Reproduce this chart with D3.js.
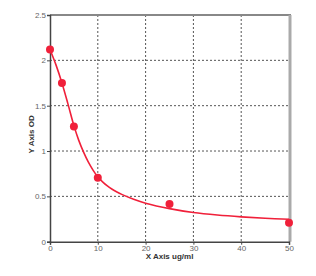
<!DOCTYPE html>
<html><head><meta charset="utf-8">
<script src="https://cdn.jsdelivr.net/npm/d3@7"></script>
<style>body{margin:0;background:#fff;}svg{display:block;}</style>
</head><body>
<script>
const xTicks = [0,10,20,30,40,50];
const yTicks = [0,0.5,1,1.5,2,2.5];
const pointX = [0,2.5,5,10,25,50];
const pointY = [2.12,1.75,1.27,0.705,0.415,0.21];
const curveX = [0,1.25,2.5,3.75,5,6,7,8,9,10,11,12,13,14,15,17.5,20,25,30,35,40,45,50];
const curveY = [2.12,1.95,1.75,1.52,1.28,1.12,0.99,0.88,0.79,0.715,0.66,0.615,0.578,0.548,0.522,0.468,0.425,0.365,0.322,0.294,0.274,0.259,0.247];
const xTitle = "X Axis ug/ml";
const yTitle = "Y Axis OD";

const W=316,H=276, L=50,R=289,T=15,B=241.7;
const svg=d3.select("body").append("svg").attr("width",W).attr("height",H);
const x=d3.scaleLinear().domain([0,50]).range([L,R]);
const y=d3.scaleLinear().domain([0,2.5]).range([B,T]);

// grid
svg.append("g").selectAll("line").data(xTicks.slice(1,-1)).join("line")
 .attr("x1",d=>x(d)).attr("x2",d=>x(d)).attr("y1",T).attr("y2",B)
 .attr("stroke","#555").attr("stroke-width",1).attr("stroke-dasharray","2,2");
svg.append("g").selectAll("line").data(yTicks.slice(1,-1)).join("line")
 .attr("y1",d=>y(d)).attr("y2",d=>y(d)).attr("x1",L).attr("x2",R)
 .attr("stroke","#555").attr("stroke-width",1).attr("stroke-dasharray","2,2");

// frame
svg.append("line").attr("x1",L).attr("x2",R+2).attr("y1",T).attr("y2",T).attr("stroke","#888").attr("stroke-width",2);
svg.append("line").attr("x1",R+1).attr("x2",R+1).attr("y1",T).attr("y2",B).attr("stroke","#aaa").attr("stroke-width",3);

const xa=svg.append("g").attr("transform",`translate(0,${B})`)
 .call(d3.axisBottom(x).tickValues(xTicks).tickSize(3).tickPadding(1));
const ya=svg.append("g").attr("transform",`translate(${L},0)`)
 .call(d3.axisLeft(y).tickValues(yTicks).tickSize(3).tickPadding(1).tickFormat(d3.format("")));
[xa,ya].forEach(a=>{
 a.select(".domain").attr("stroke","#444").attr("stroke-width",1.5);
 a.selectAll(".tick line").attr("stroke","#444");
 a.selectAll("text").attr("font-family","Liberation Sans, Arial, sans-serif").attr("font-size",8).attr("fill","#666");
});

// curve
const pts=curveX.map((v,i)=>[v,curveY[i]]);
svg.append("path").datum(pts)
 .attr("d",d3.line().x(d=>x(d[0])).y(d=>y(d[1])).curve(d3.curveCatmullRom.alpha(0.5)))
 .attr("fill","none").attr("stroke","#f0203a").attr("stroke-width",1.6);

svg.append("g").selectAll("circle").data(pointX.map((v,i)=>[v,pointY[i]])).join("circle")
 .attr("cx",d=>x(d[0])).attr("cy",d=>y(d[1])).attr("r",4).attr("fill","#f0203a");

svg.append("text").attr("x",(L+R)/2).attr("y",259).attr("text-anchor","middle")
 .attr("font-family","Liberation Sans, Arial, sans-serif").attr("font-size",8).attr("font-weight","bold").attr("fill","#333").text(xTitle);
svg.append("text").attr("transform",`translate(34,${(T+B)/2+6}) rotate(-90)`).attr("text-anchor","middle")
 .attr("font-family","Liberation Sans, Arial, sans-serif").attr("font-size",8).attr("font-weight","bold").attr("fill","#333").text(yTitle);
</script>
</body></html>
